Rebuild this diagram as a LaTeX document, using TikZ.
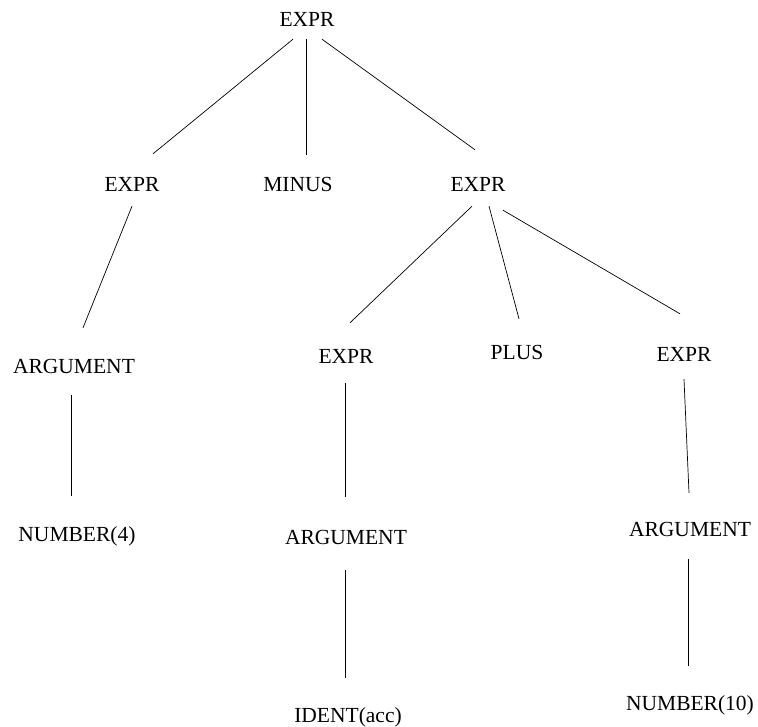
\documentclass[tikz,border=0pt]{standalone}
\usepackage{fontspec}
\setmainfont{Liberation Serif}
\begin{document}
\begin{tikzpicture}[x=1pt, y=1pt,
  sym/.style={anchor=base, inner sep=0pt, text height=14pt, text depth=0pt,
    font=\fontsize{21.5}{24}\selectfont},
  edge/.style={line width=0.7pt}]
  \useasboundingbox (0,0) rectangle (758,-726);
  % level 0 and 1
  \node [sym] (expr0) at (307, -26) {EXPR};
  \node [sym] (exprL) at (132, -191) {EXPR};
  \node [sym] (minus) at (298, -191) {MINUS};
  \node [sym] (exprR) at (478, -191) {EXPR};
  % level 2
  \node [sym] (argL) at (74, -373) {ARGUMENT};
  \node [sym] (exprM) at (346, -363) {EXPR};
  \node [sym] (plus) at (517, -359) {PLUS};
  \node [sym] (exprRR) at (684, -361) {EXPR};
  % level 3 and 4
  \node [sym] (num4) at (77, -541) {NUMBER(4)};
  \node [sym] (argM) at (346, -544) {ARGUMENT};
  \node [sym] (argR) at (690, -536) {ARGUMENT};
  \node [sym] (ident) at (348, -722) {IDENT(acc)};
  \node [sym] (num10) at (690, -710) {NUMBER(10)};
  % edges
  \draw [edge] ([shift={(-14,-13)}]expr0.south) -- ([shift={(21,23)}]exprL.north);
  \draw [edge] ([shift={(-1,-13)}]expr0.south) -- ([shift={(8,22)}]minus.north);
  \draw [edge] ([shift={(15,-13)}]expr0.south) -- ([shift={(-3,27)}]exprR.north);
  \draw [edge] ([shift={(0,-15)}]exprL.south) -- ([shift={(9,31)}]argL.north);
  \draw [edge] ([shift={(-6,-15)}]exprR.south) -- ([shift={(4,26)}]exprM.north);
  \draw [edge] ([shift={(11,-15)}]exprR.south) -- ([shift={(2,26)}]plus.north);
  \draw [edge] ([shift={(25,-19)}]exprR.south) -- ([shift={(-4,33)}]exprRR.north);
  \draw [edge] ([shift={(-3,-22)}]argL.south) -- ([shift={(-6,31)}]num4.north);
  \draw [edge] ([shift={(-1,-20)}]exprM.south) -- ([shift={(-1,33)}]argM.north);
  \draw [edge] ([shift={(0,-18)}]exprRR.south) -- ([shift={(-1,29)}]argR.north);
  \draw [edge] ([shift={(-1,-26)}]argM.south) -- ([shift={(-3,30)}]ident.north);
  \draw [edge] ([shift={(-2,-23)}]argR.south) -- ([shift={(-2,30)}]num10.north);
\end{tikzpicture}
\end{document}
